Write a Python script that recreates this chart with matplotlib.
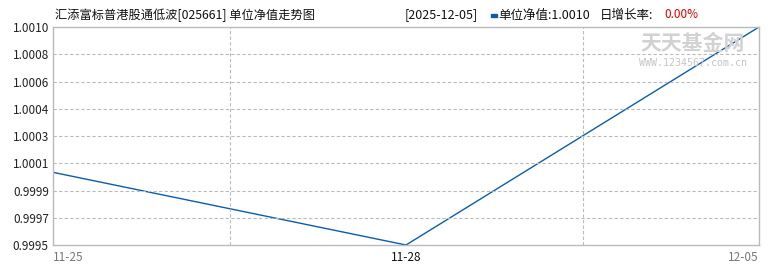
import matplotlib
matplotlib.use("Agg")
import matplotlib.pyplot as plt
import numpy as np

plt.rcParams['font.family'] = ['Noto Sans CJK SC', 'DejaVu Sans']

dates = ["11-25", "11-28", "12-05"]
nav = [1.0000, 0.9995, 1.0010]
ytick_vals = list(np.linspace(0.9995, 1.0010, 9))
ytick_labels = ["0.9995", "0.9997", "0.9999", "1.0001", "1.0003", "1.0004", "1.0006", "1.0008", "1.0010"]
title = "汇添富标普港股通低波[025661] 单位净值走势图"
last_date = "2025-12-05"
last_nav = "1.0010"
last_rate = "0.00%"

fig = plt.figure(figsize=(7.7, 2.7), dpi=100)
ax = fig.add_axes([53/770, 1-245/270, (759-53)/770, (245-27)/270])

x = np.arange(len(dates))
ax.plot(x, nav, color='#0b5cad', lw=1.0)
ax.set_xlim(0, len(dates)-1)
ax.set_ylim(0.9995, 1.0010)

ax.set_yticks(ytick_vals)
ax.set_yticklabels(ytick_labels, fontsize=8.5, color='#222222')
ax.set_xticks(x)
ax.set_xticklabels(dates, fontsize=8.5)
xl = ax.get_xticklabels()
xl[0].set_ha('left'); xl[0].set_color('#777777')
xl[-1].set_ha('right'); xl[-1].set_color('#777777')
xl[1].set_color('#111111')
ax.tick_params(length=0, pad=4)
ax.tick_params(axis='y', pad=3)

for v in ytick_vals[1:-1]:
    ax.axhline(v, color='#bbbbbb', lw=0.8, ls=(0, (3, 2)))
for v in [0.5, 1.5]:
    ax.axvline(v, color='#bbbbbb', lw=0.8, ls=(0, (3, 2)))

for s in ax.spines.values():
    s.set_color('#bbbbbb')
    s.set_linewidth(1.0)

# watermark
fig.text(693/770, 1-44/270, "天天基金网", fontsize=15, color='#d2d2d2',
         ha='center', va='center', fontweight='bold')
fig.text(693/770, 1-63/270, "WWW.1234567.com.cn", fontsize=7.2, color='#c6c6c6',
         ha='center', va='center', family='DejaVu Sans Mono')

# header
fig.text(55/770, 1-15/270, title, fontsize=8.8, color='#111111', ha='left', va='center')
fig.text(405/770, 1-15/270, "[" + last_date + "]", fontsize=9, color='#111111', ha='left', va='center')
fig.patches.append(plt.Rectangle((491/770, 1-17/270), 6/770, 3/270, transform=fig.transFigure,
                                 color='#0b5cad'))
fig.text(498/770, 1-15/270, "单位净值:" + last_nav, fontsize=9, color='#111111', ha='left', va='center')
fig.text(600/770, 1-15/270, "日增长率:", fontsize=9, color='#111111', ha='left', va='center')
fig.text(664/770, 1-15/270, last_rate, fontsize=8.5, color='#dd0000', ha='left', va='center')

fig.savefig("out.png", dpi=100)
